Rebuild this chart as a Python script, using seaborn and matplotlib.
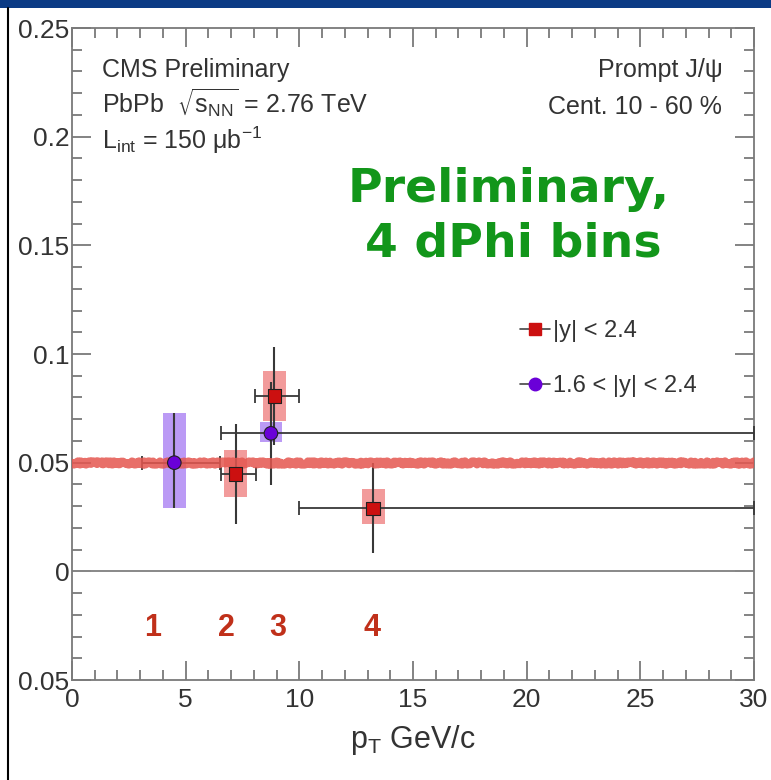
import numpy as np
import pandas as pd
import matplotlib
matplotlib.use("Agg")
import matplotlib.pyplot as plt
from matplotlib.lines import Line2D
from matplotlib.patches import Rectangle
from matplotlib.ticker import MultipleLocator, FixedLocator, FixedFormatter
import seaborn as sns

# ---- data ----
series_names = ["|y| < 2.4", "1.6 < |y| < 2.4"]
# |y| < 2.4 (red squares)
red_pt = [7.2, 8.9, 13.25]
red_v2 = [0.0447, 0.0806, 0.029]
red_xlo = [6.55, 8.05, 10.0]
red_xhi = [8.1, 10.0, 30.0]
red_ylo = [0.0216, 0.058, 0.0083]
red_yhi = [0.0677, 0.103, 0.050]
red_syslo = [0.034, 0.069, 0.022]
red_syshi = [0.0557, 0.092, 0.038]
# 1.6 < |y| < 2.4 (purple circles)
blu_pt = [4.5, 8.75]
blu_v2 = [0.050, 0.0635]
blu_xlo = [3.1, 6.55]
blu_xhi = [6.5, 30.0]
blu_ylo = [0.029, 0.0396]
blu_yhi = [0.0727, 0.087]
blu_syslo = [0.029, 0.0594]
blu_syshi = [0.0727, 0.0686]
sys_halfwidth = 0.5
fit_level = 0.05
bin_labels = ["1", "2", "3", "4"]
bin_label_x = [3.55, 6.8, 9.05, 13.2]
bin_label_y = -0.026

yticks = [-0.05, 0, 0.05, 0.1, 0.15, 0.2, 0.25]
ytick_labels = ["0.05", "0", "0.05", "0.1", "0.15", "0.2", "0.25"]
xticks = [0, 5, 10, 15, 20, 25, 30]
xtick_labels = ["0", "5", "10", "15", "20", "25", "30"]

sns.set_theme(style="ticks")
plt.rcParams["font.family"] = ["Liberation Sans", "DejaVu Sans"]

fig = plt.figure(figsize=(7.71, 7.80), dpi=100)
ax = fig.add_axes([0.0934, 0.1282, 0.8846, 0.8359])

RED = "#cc1010"
RED_BOX = "#f08a8a"
PUR = "#6a00d8"
PUR_BOX = "#b088f4"
GRID = "#7a7a7a"

# zero line
ax.axhline(0, color="#888888", lw=1.4, zorder=1)

# systematic boxes
for x, lo, hi in zip(red_pt, red_syslo, red_syshi):
    ax.add_patch(Rectangle((x - sys_halfwidth, lo), 2 * sys_halfwidth, hi - lo,
                           facecolor=RED_BOX, edgecolor="none", alpha=0.85, zorder=2))
for x, lo, hi in zip(blu_pt, blu_syslo, blu_syshi):
    ax.add_patch(Rectangle((x - sys_halfwidth, lo), 2 * sys_halfwidth, hi - lo,
                           facecolor=PUR_BOX, edgecolor="none", alpha=0.85, zorder=2))

# error bars: horizontal with caps, vertical without
def ebar(xs, ys, xlo, xhi, ylo, yhi):
    xs = np.array(xs); ys = np.array(ys)
    xerr = [xs - np.array(xlo), np.array(xhi) - xs]
    yerr = [ys - np.array(ylo), np.array(yhi) - ys]
    ax.errorbar(xs, ys, xerr=xerr, fmt="none", ecolor="#383838",
                elinewidth=1.3, capsize=5, capthick=1.3, zorder=3)
    ax.errorbar(xs, ys, yerr=yerr, fmt="none", ecolor="#383838",
                elinewidth=1.5, capsize=0, zorder=3)

ebar(blu_pt, blu_v2, blu_xlo, blu_xhi, blu_ylo, blu_yhi)
ebar(red_pt, red_v2, red_xlo, red_xhi, red_ylo, red_yhi)

# fit line
fl = ax.axhline(fit_level, color="#e5564f", lw=6, alpha=0.85, zorder=4)
fl.set_sketch_params(1.5, 3, 4)

# markers via seaborn
df = pd.DataFrame({
    "pt": red_pt + blu_pt,
    "v2": red_v2 + blu_v2,
    "sel": [series_names[0]] * len(red_pt) + [series_names[1]] * len(blu_pt),
})
sns.scatterplot(data=df, x="pt", y="v2", hue="sel", style="sel",
                markers={series_names[0]: "s", series_names[1]: "o"},
                palette={series_names[0]: RED, series_names[1]: PUR},
                s=95, edgecolor="#202020", linewidth=0.8, legend=False, ax=ax, zorder=5)

ax.set_xlim(0, 30)
ax.set_ylim(-0.05, 0.25)
ax.xaxis.set_major_locator(FixedLocator(xticks))
ax.xaxis.set_major_formatter(FixedFormatter(xtick_labels))
ax.yaxis.set_major_locator(FixedLocator(yticks))
ax.yaxis.set_major_formatter(FixedFormatter(ytick_labels))
ax.xaxis.set_minor_locator(MultipleLocator(1))
ax.yaxis.set_minor_locator(MultipleLocator(0.01))
ax.tick_params(which="both", direction="in", top=True, right=True, color=GRID,
               labelsize=19, labelcolor="#333333", width=1.3)
ax.tick_params(which="major", length=14)
ax.tick_params(which="minor", length=7)
ax.tick_params(axis="x", pad=6)
ax.tick_params(axis="y", pad=2)
for sp in ax.spines.values():
    sp.set_color(GRID)
    sp.set_linewidth(1.3)
ax.set_xlabel(r"p$_\mathregular{T}$ GeV/c", fontsize=22, color="#333333", labelpad=8)
ax.set_ylabel("")

# text
tc = "#333333"
ax.text(1.3, 0.2275, "CMS Preliminary", fontsize=18, color=tc)
ax.text(1.3, 0.2105, r"PbPb  $\sqrt{\mathregular{s_{NN}}}$ = 2.76 TeV", fontsize=18, color=tc)
ax.text(1.3, 0.1945, r"L$_\mathregular{int}$ = 150 $\mathregular{\mu}$b$^\mathregular{-1}$", fontsize=18, color=tc)
ax.text(28.6, 0.2275, "Prompt J/ψ", fontsize=18, color=tc, ha="right")
ax.text(28.6, 0.2105, "Cent. 10 - 60 %", fontsize=18, color=tc, ha="right")

ax.text(19.2, 0.1755, "Preliminary,", fontsize=34, fontweight="bold", color="#12961a",
        ha="center", va="center", family="DejaVu Sans")
ax.text(19.4, 0.1505, "4 dPhi bins", fontsize=34, fontweight="bold", color="#12961a",
        ha="center", va="center", family="DejaVu Sans")

for lab, x in zip(bin_labels, bin_label_x):
    ax.text(x, bin_label_y, lab, fontsize=22, fontweight="bold", color="#c0301a",
            ha="center", va="center")

handles = [
    Line2D([], [], color="#444444", lw=1.2, marker="s", markersize=8,
           markerfacecolor=RED, markeredgecolor=RED),
    Line2D([], [], color="#444444", lw=1.2, marker="o", markersize=9,
           markerfacecolor=PUR, markeredgecolor=PUR),
]
ax.legend(handles, series_names, loc="upper left", bbox_to_anchor=(0.625, 0.585),
          frameon=False, fontsize=17, handlelength=1.3, handletextpad=0.1,
          labelspacing=1.4, labelcolor="#333333")

# figure decorations
fig.patches.append(Rectangle((0, 0.99), 1, 0.01, transform=fig.transFigure,
                             facecolor="#0b3b85", edgecolor="none"))
fig.lines.append(Line2D([0.011, 0.011], [0, 0.99], transform=fig.transFigure,
                        color="black", lw=1.5))

fig.savefig("out.png", dpi=100)
